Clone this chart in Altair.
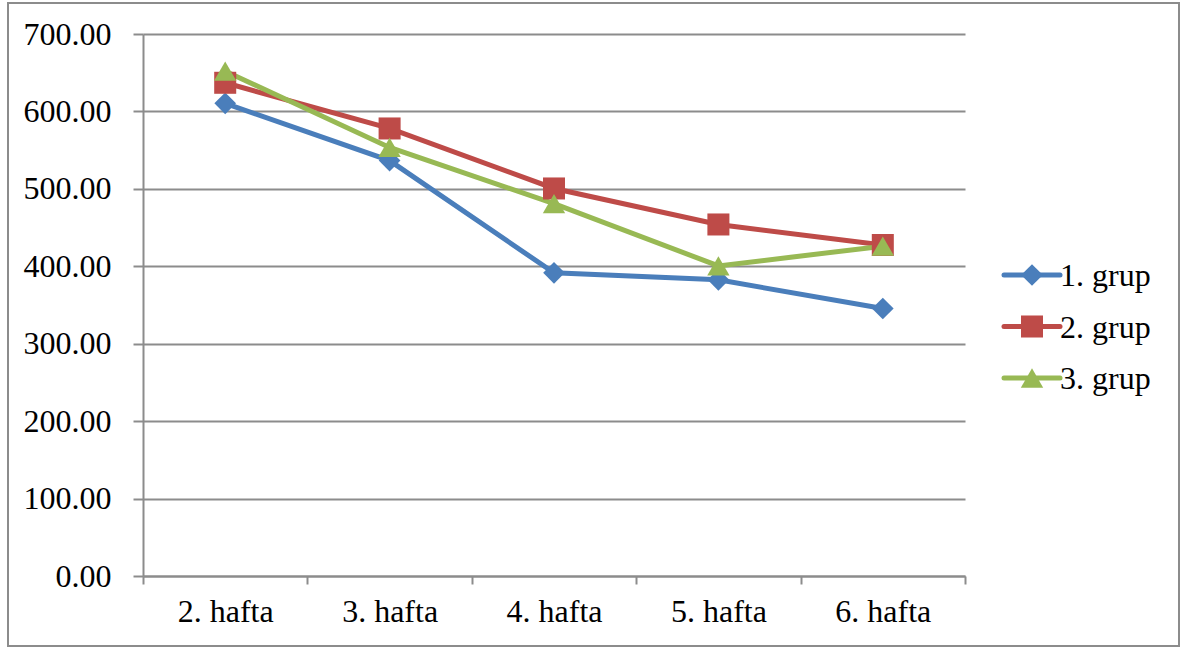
import altair as alt
import pandas as pd

weeks = ["2. hafta", "3. hafta", "4. hafta", "5. hafta", "6. hafta"]
groups = ["1. grup", "2. grup", "3. grup"]
grup1 = [610.5, 536.5, 391.5, 382.5, 345.5]
grup2 = [637.0, 578.0, 500.5, 454.0, 427.5]
grup3 = [652.0, 553.5, 481.0, 400.5, 426.0]

colors = ["#4A7EBB", "#BE4B48", "#98B954"]
shapes = ["diamond", "square", "triangle-up"]
marker_sizes = [470, 500, 560]

rows = []
for g, vals in zip(groups, [grup1, grup2, grup3]):
    for w, v in zip(weeks, vals):
        rows.append({"hafta": w, "grup": g, "deger": v})
df = pd.DataFrame(rows)

FONT = "Liberation Serif"
FS = 32
W, H = 822, 542
LEFT, TOP = 143, 34
GRAY = "#8C8C8C"

color_scale = alt.Scale(domain=groups, range=colors)
shape_scale = alt.Scale(domain=groups, range=shapes)
size_scale = alt.Scale(domain=groups, range=marker_sizes)
x_scale = alt.Scale(type="band", paddingInner=0, paddingOuter=0)

x_enc = alt.X(
    "hafta:N",
    sort=weeks,
    bandPosition=0.5,
    scale=x_scale,
    axis=alt.Axis(
        title=None, labelAngle=0, tickBand="extent", grid=False,
        labelFont=FONT, labelFontSize=FS, labelColor="#000000",
        labelPadding=12, domainColor=GRAY, domainWidth=2,
        tickColor=GRAY, tickWidth=2, tickSize=8,
    ),
)
y_enc = alt.Y(
    "deger:Q",
    scale=alt.Scale(domain=[0, 700], nice=False),
    axis=alt.Axis(
        title=None, values=list(range(0, 701, 100)), format=".2f",
        labelFont=FONT, labelFontSize=FS, labelColor="#000000",
        labelPadding=22, gridColor=GRAY, gridWidth=2,
        domainColor=GRAY, domainWidth=2,
        tickColor=GRAY, tickWidth=2, tickSize=10,
    ),
)

lines = alt.Chart(df).mark_line(strokeWidth=5).encode(
    x=x_enc, y=y_enc,
    color=alt.Color("grup:N", scale=color_scale, legend=None),
)
points = alt.Chart(df).mark_point(filled=True, opacity=1).encode(
    x=alt.X("hafta:N", sort=weeks, bandPosition=0.5),
    y="deger:Q",
    color=alt.Color("grup:N", scale=color_scale, legend=None),
    shape=alt.Shape("grup:N", scale=shape_scale, legend=None),
    size=alt.Size("grup:N", scale=size_scale, legend=None),
)

# legend: line sample, marker and label for each group
leg_df = pd.DataFrame({"grup": groups})
leg_y = alt.Y(
    "grup:N", sort=groups,
    scale=alt.Scale(type="point", domain=groups, range=[275 - TOP, 378 - TOP], padding=0),
    axis=None,
)
leg_base = alt.Chart(leg_df)
leg_lines = leg_base.mark_rule(strokeWidth=5, strokeCap="round", clip=False).encode(
    x=alt.value(1004 - LEFT), x2=alt.value(1060 - LEFT), y=leg_y,
    color=alt.Color("grup:N", scale=color_scale, legend=None),
)
leg_marks = leg_base.mark_point(filled=True, opacity=1, clip=False).encode(
    x=alt.value(1032 - LEFT), y=leg_y,
    color=alt.Color("grup:N", scale=color_scale, legend=None),
    shape=alt.Shape("grup:N", scale=shape_scale, legend=None),
    size=alt.Size("grup:N", scale=size_scale, legend=None),
)
leg_text = leg_base.mark_text(
    align="left", baseline="middle", font=FONT, fontSize=FS, color="#000000", clip=False, dy=1
).encode(x=alt.value(1060 - LEFT), y=leg_y, text="grup:N")

frame = alt.Chart(pd.DataFrame({"a": [0]})).mark_rect(
    fill=None, stroke=GRAY, strokeWidth=2, clip=False
).encode(
    x=alt.value(8 - LEFT), x2=alt.value(1179 - LEFT),
    y=alt.value(3 - TOP), y2=alt.value(646 - TOP),
)

plot = alt.layer(lines, points)
legend = alt.layer(leg_lines, leg_marks, leg_text)

chart = alt.layer(frame, plot, legend).resolve_scale(
    y="independent"
).properties(
    width=W, height=H,
    autosize=alt.AutoSizeParams(type="none"),
    padding={"left": LEFT, "top": TOP, "right": 1181 - LEFT - W, "bottom": 648 - TOP - H},
    background="white",
).configure_view(stroke=None)

chart.save("out.html", embed_options={"renderer": "svg", "actions": False})
